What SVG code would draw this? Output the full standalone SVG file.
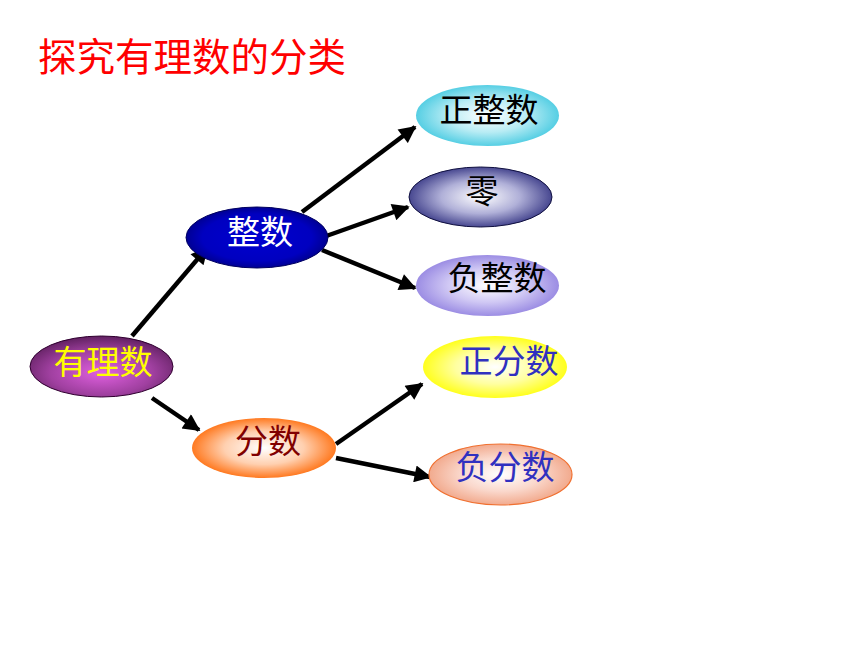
<svg xmlns="http://www.w3.org/2000/svg" width="860" height="645" viewBox="0 0 860 645">
<style>
.t{font-family:"Noto Sans CJK SC","Noto Sans",sans-serif;font-size:33px;text-anchor:middle}
.c{stroke:#000;stroke-width:4.5;fill:none;marker-end:url(#ah)}
</style>
<defs>
<marker id="ah" viewBox="0 0 10 10" refX="9" refY="5" markerWidth="4.2" markerHeight="3.8" orient="auto" markerUnits="strokeWidth">
<path d="M0,0 L10,5 L0,10 z" fill="#000"/>
</marker>
<radialGradient id="gPurple" cx="50%" cy="60%" r="60%"><stop offset="0" stop-color="#e060e0"/><stop offset="0.6" stop-color="#a040a0"/><stop offset="1" stop-color="#602060"/></radialGradient>
<radialGradient id="gBlue" cx="50%" cy="50%" r="55%"><stop offset="0" stop-color="#0000d0"/><stop offset="0.7" stop-color="#0000c0"/><stop offset="1" stop-color="#000080"/></radialGradient>
<radialGradient id="gOrange" cx="50%" cy="50%" r="55%"><stop offset="0" stop-color="#ffffff"/><stop offset="0.5" stop-color="#ffd0b0"/><stop offset="1" stop-color="#ff6600"/></radialGradient>
<radialGradient id="gCyan" cx="50%" cy="50%" r="55%"><stop offset="0" stop-color="#ffffff"/><stop offset="0.5" stop-color="#b8ecf4"/><stop offset="1" stop-color="#40c8e0"/></radialGradient>
<radialGradient id="gNavy" cx="50%" cy="50%" r="55%"><stop offset="0" stop-color="#ffffff"/><stop offset="0.5" stop-color="#b0b0d8"/><stop offset="1" stop-color="#303080"/></radialGradient>
<radialGradient id="gLav" cx="50%" cy="50%" r="55%"><stop offset="0" stop-color="#ffffff"/><stop offset="0.5" stop-color="#d0c8f4"/><stop offset="1" stop-color="#9080e0"/></radialGradient>
<radialGradient id="gYellow" cx="50%" cy="50%" r="55%"><stop offset="0" stop-color="#ffffff"/><stop offset="0.5" stop-color="#ffffa0"/><stop offset="1" stop-color="#ffff00"/></radialGradient>
<radialGradient id="gPeach" cx="50%" cy="50%" r="55%"><stop offset="0" stop-color="#ffffff"/><stop offset="0.5" stop-color="#fad8cc"/><stop offset="1" stop-color="#f0a080"/></radialGradient>
</defs>
<rect width="860" height="645" fill="#fff"/>
<text x="38" y="71" font-family="Noto Sans CJK SC, sans-serif" font-size="38.5" fill="#ff0000">探究有理数的分类</text>
<g id="connectors">
<line class="c" x1="132" y1="336" x2="207" y2="248"/>
<line class="c" x1="152" y1="398" x2="199" y2="430"/>
<line class="c" x1="302" y1="212" x2="415" y2="127"/>
<line class="c" x1="315" y1="240" x2="408" y2="207"/>
<line class="c" x1="322" y1="250" x2="415" y2="288"/>
<line class="c" x1="336" y1="444" x2="422" y2="384"/>
<line class="c" x1="336" y1="458" x2="430" y2="477"/>
</g>
<g id="n-youlishu"><ellipse cx="101.5" cy="366.5" rx="71.5" ry="30.5" fill="url(#gPurple)" stroke="#300030" stroke-width="1"/><text class="t" x="103" y="374" fill="#ffff00">有理数</text></g>
<g id="n-zhengshu"><ellipse cx="257" cy="237.5" rx="71" ry="30.5" fill="url(#gBlue)" stroke="#000060" stroke-width="1"/><text class="t" x="260" y="244" fill="#ffffff">整数</text></g>
<g id="n-fenshu"><ellipse cx="264" cy="448" rx="72" ry="30" fill="url(#gOrange)"/><text class="t" x="268" y="453" fill="#800000">分数</text></g>
<g id="n-zhengzhengshu"><ellipse cx="487.5" cy="115.5" rx="71.5" ry="30.5" fill="url(#gCyan)"/><text class="t" x="489" y="122" fill="#000">正整数</text></g>
<g id="n-ling"><ellipse cx="480.5" cy="197" rx="71.5" ry="30" fill="url(#gNavy)" stroke="#101040" stroke-width="1"/><text class="t" x="482" y="203" fill="#000">零</text></g>
<g id="n-fuzhengshu"><ellipse cx="487.5" cy="285.5" rx="71.5" ry="30.5" fill="url(#gLav)"/><text class="t" x="497" y="290" fill="#000">负整数</text></g>
<g id="n-zhengfenshu"><ellipse cx="495" cy="367" rx="72" ry="31" fill="url(#gYellow)"/><text class="t" x="509" y="373" fill="#3030c0">正分数</text></g>
<g id="n-fufenshu"><ellipse cx="500.5" cy="474.5" rx="71.5" ry="30.5" fill="url(#gPeach)" stroke="#f07030" stroke-width="1.2"/><text class="t" x="505" y="479" fill="#3030c0">负分数</text></g>
</svg>
